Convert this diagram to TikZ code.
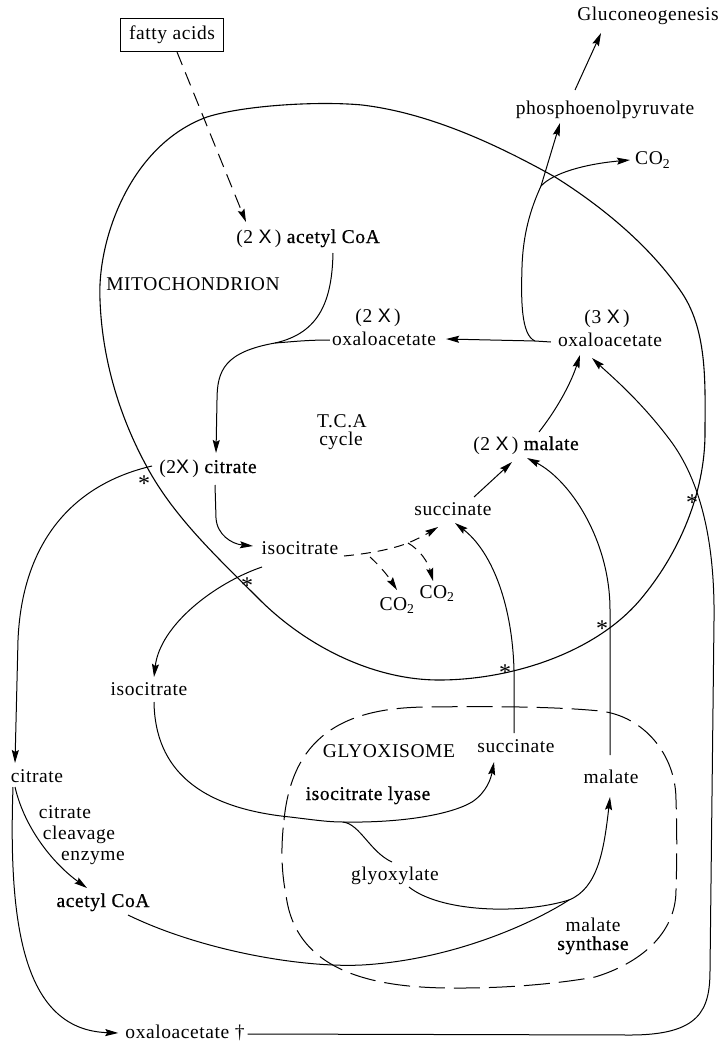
\documentclass[tikz,border=0pt]{standalone}
\usepackage{fontspec}
\setmainfont{Liberation Serif}[LetterSpace=3]
\newfontfamily\semib{Liberation Serif}[LetterSpace=3,FakeBold=0.6]
\newfontfamily\xfont{Liberation Sans}
\usetikzlibrary{arrows.meta}

\tikzset{
  lbl/.style={inner sep=0pt, font=\fontsize{19.5pt}{23pt}\selectfont,
              text height=14pt, text depth=4pt},
  mark star/.style={inner sep=0pt, font=\fontsize{24pt}{26pt}\selectfont,
              text height=14pt, text depth=4pt},
  conn/.style={line width=1pt},
  arr/.style={conn, -{Stealth[length=13pt,width=7pt,inset=2pt]}},
  dsh/.style={dash pattern=on 10pt off 7pt},
  longdsh/.style={dash pattern=on 14pt off 8pt},
  membrane/.style={line width=1.1pt},
  glyoxwall/.style={line width=1pt, dash pattern=on 26pt off 9pt},
}

\begin{document}
\begin{tikzpicture}[x=1pt,y=-1pt]
\useasboundingbox (0,0) rectangle (724,1043);

% mitochondrial membrane
\draw[membrane] (100,300) .. controls (97,240) and (130,145) .. (207,117)
  .. controls (245,105) and (320,101) .. (362,105)
  .. controls (429,113) and (496,144) .. (555,177)
  .. controls (603,207) and (651,247) .. (682,293)
  .. controls (708,332) and (705,386) .. (705,433)
  .. controls (705,493) and (679,554) .. (640,600)
  .. controls (594,654) and (509,680) .. (439,680)
  .. controls (372,680) and (304,645) .. (257,597)
  .. controls (217,557) and (174,517) .. (147,467)
  .. controls (119,416) and (102,358) .. cycle;

% glyoxisome boundary
\draw[glyoxwall] (284,820) .. controls (292,740) and (339,707) .. (429,707)
  .. controls (500,706) and (560,707) .. (600,711)
  .. controls (644,716) and (676,755) .. (676,800)
  .. controls (677,830) and (677,860) .. (676,890)
  .. controls (676,935) and (638,964) .. (595,977)
  .. controls (550,985) and (500,988) .. (462,988)
  .. controls (380,989) and (296,975) .. (286,895)
  .. controls (281,870) and (281,845) .. cycle;

% metabolites and labels
\node[lbl, draw, line width=1pt, minimum width=103pt, minimum height=33pt] (fatty) at (172,35) {fatty acids};
\node[lbl] (gluco) at (648,16) {Gluconeogenesis};
\node[lbl] (pep) at (605,110) {phosphoenolpyruvate};
\node[lbl, anchor=west] (co2a) at (635,160) {CO\textsubscript{2}};
\node[lbl] (acoa2) at (308,238) {(2 {\xfont X}\,) {\semib acetyl CoA}};
\node[lbl] (mito) at (193,285) {MITOCHONDRION};
\node[lbl] (oaa2x) at (378,317) {(2 {\xfont X}\,)};
\node[lbl] (oaa2) at (384,340) {oxaloacetate};
\node[lbl] (oaa3x) at (607,318) {(3 {\xfont X}\,)};
\node[lbl] (oaa3) at (610,341) {oxaloacetate};
\node[lbl] (tca) at (342,422) {T.C.A};
\node[lbl] (cyc) at (341,440) {cycle};
\node[lbl] (mal2) at (526,445) {(2 {\xfont X}\,) {\semib malate}};
\node[lbl] (cit2) at (208,468) {(2{\xfont X}\,) {\semib citrate}};
\node[lbl] (succ) at (453,510) {succinate};
\node[lbl] (isocit) at (300,549) {isocitrate};
\node[lbl] (co2b) at (397,605) {CO\textsubscript{2}};
\node[lbl] (co2c) at (437,593) {CO\textsubscript{2}};
\node[lbl] (isocitc) at (149,690) {isocitrate};
\node[lbl] (citc) at (37,777) {citrate};
\node[lbl] (cce1) at (65,813) {citrate};
\node[lbl] (cce2) at (79,834) {cleavage};
\node[lbl] (cce3) at (93,855) {enzyme};
\node[lbl] (acoac) at (103,902) {\semib acetyl CoA};
\node[lbl] (glyname) at (389,752) {GLYOXISOME};
\node[lbl] (succg) at (516,747) {succinate};
\node[lbl] (malg) at (611,778) {malate};
\node[lbl] (icl) at (368,795) {\semib isocitrate lyase};
\node[lbl] (glyox) at (395,875) {glyoxylate};
\node[lbl] (ms1) at (593,926) {malate};
\node[lbl] (ms2) at (593,945) {\semib synthase};
\node[lbl] (oaac) at (185,1033) {oxaloacetate †};

% transport markers on the membrane
\node[mark star] (st1) at (144,486) {*};
\node[mark star] (st2) at (247,588) {*};
\node[mark star] (st3) at (505,675) {*};
\node[mark star] (st4) at (602,631) {*};
\node[mark star] (st5) at (692,505) {*};

% junction points
\coordinate (j1) at (275,343);
\coordinate (j2) at (535,341);
\coordinate (j3) at (541,186);
\coordinate (j4) at (343,822);
\coordinate (j5) at (569,900);
\coordinate (t1) at (408,543);
\coordinate (t2) at (370,557);

% beta-oxidation
\draw[arr, longdsh] ([shift={(5,17)}]fatty.center) -- ([shift={(-62,-16)}]acoa2.center);

% citrate synthesis in the mitochondrion
\draw[arr] ([shift={(25,15)}]acoa2.center) .. controls (332,300) and (320,333) .. (j1)
  .. controls (225,352) and (217,370) .. (217,400) -- ([shift={(8,-15)}]cit2.center);
\draw[conn] ([shift={(-2,0)}]oaa2.west) .. controls (305,340) and (290,342) .. (j1);
\draw[arr] ([shift={(7,17)}]cit2.center) -- (216,518) .. controls (217,535) and (232,544)
  .. ([shift={(-47,-3)}]isocit.center);

% oxidative steps
\draw[arr, dsh] ([shift={(44,7)}]isocit.center) .. controls (375,553) and (395,548) .. (t1)
  .. controls (420,538) and (430,532) .. ([shift={(-15,17)}]succ.center);
\draw[arr, dsh] (t1) .. controls (420,550) and (428,562) .. ([shift={(-4,-12)}]co2c.center);
\draw[arr, dsh] (t2) .. controls (380,566) and (388,576) .. ([shift={(0,-15)}]co2b.center);
\draw[arr] ([shift={(21,-13)}]succ.center) -- ([shift={(-14,17)}]mal2.center);
\draw[arr] ([shift={(13,-13)}]mal2.center) .. controls (560,405) and (572,380)
  .. ([shift={(-30,14)}]oaa3.center);
\draw[arr] ([shift={(-7,1)}]oaa3.west) -- (j2) -- ([shift={(10,-1)}]oaa2.east);

% gluconeogenic branch
\draw[arr] (j2) .. controls (521,335) and (521,300) .. (522,267)
  .. controls (523,235) and (530,210) .. (j3) -- ([shift={(-45,13)}]pep.center);
\draw[arr] (j3) .. controls (553,173) and (585,164) .. ([shift={(-5,0)}]co2a.west);
\draw[arr] ([shift={(-30,-20)}]pep.center) -- ([shift={(-47,17)}]gluco.center);

% export of citrate and isocitrate
\draw[arr] ([shift={(-56,-2)}]cit2.center) .. controls (70,485) and (22,545) .. (18,640)
  -- ([shift={(-22,-14)}]citc.center);
\draw[arr] ([shift={(-38,18)}]isocit.center) .. controls (215,583) and (160,625)
  .. ([shift={(5,-13)}]isocitc.center);

% glyoxylate cycle
\draw[arr] ([shift={(5,12)}]isocitc.center) .. controls (155,770) and (200,808) .. (290,817)
  .. controls (315,820) and (328,822) .. (j4) .. controls (400,823) and (450,815) .. (472,802)
  .. controls (487,792) and (491,778) .. ([shift={(-22,15)}]succg.center);
\draw[conn] (j4) .. controls (360,824) and (370,852) .. ([shift={(-3,-13)}]glyox.center);
\draw[arr] ([shift={(14,12)}]glyox.center) .. controls (440,912) and (520,915) .. (j5)
  .. controls (598,888) and (604,850) .. ([shift={(-1,19)}]malg.center);
\draw[conn] ([shift={(25,13)}]acoac.center) .. controls (200,950) and (300,968) .. (362,965)
  .. controls (450,960) and (530,925) .. (j5);

% cytosolic citrate cleavage
\draw[arr] ([shift={(-22,10)}]citc.center) .. controls (25,830) and (55,865)
  .. ([shift={(-16,-14)}]acoac.center);
\draw[arr] ([shift={(-24,10)}]citc.center) .. controls (8,930) and (25,1030)
  .. ([shift={(-7,0)}]oaac.west);

% return of oxaloacetate
\draw[arr] ([shift={(3,1)}]oaac.east) -- (630,1035) .. controls (700,1035) and (710,1010) .. (710,970)
  -- (714,620) .. controls (715,540) and (700,480) .. (670,440)
  .. controls (640,400) and (610,375) .. ([shift={(-18,17)}]oaa3.center);

% import of glyoxisomal succinate and malate
\draw[arr] ([shift={(-2,-14)}]succg.center) -- (514,670) .. controls (512,600) and (490,550)
  .. ([shift={(2,13)}]succ.center);
\draw[arr] ([shift={(-1,-23)}]malg.center) -- (610,610) .. controls (610,540) and (570,480)
  .. ([shift={(1,13)}]mal2.center);
\end{tikzpicture}
\end{document}
